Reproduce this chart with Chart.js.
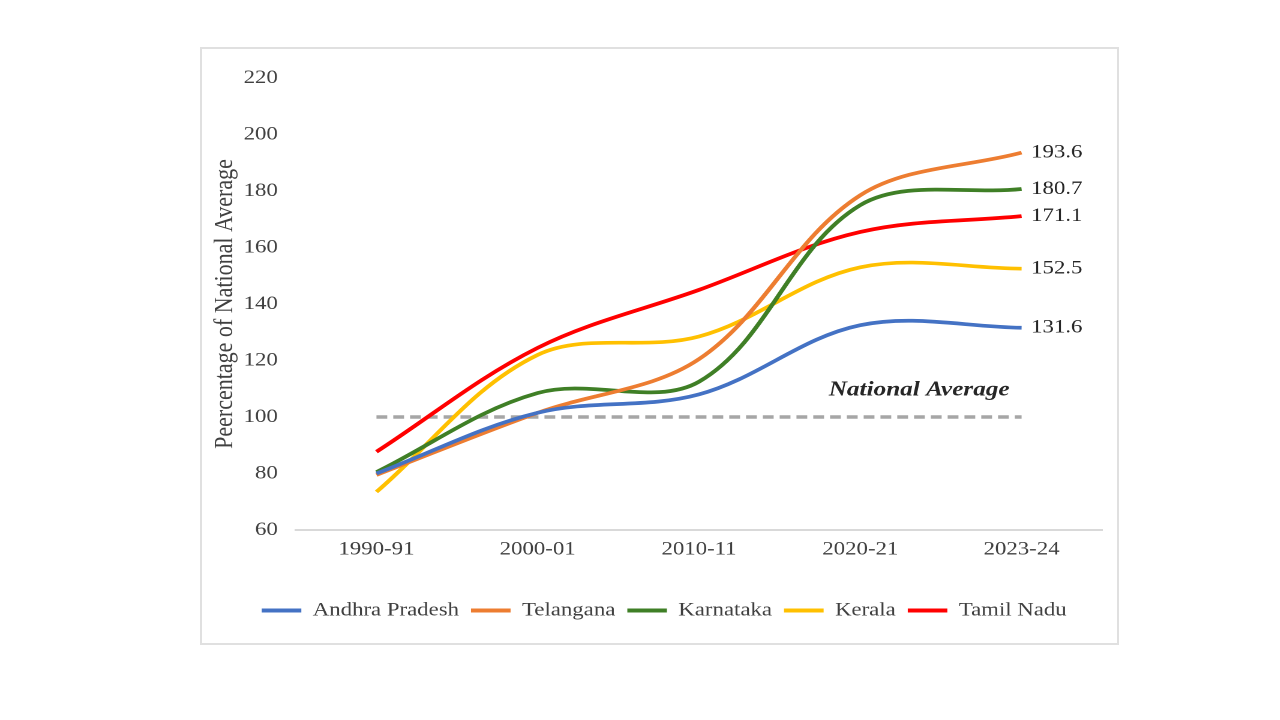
<!DOCTYPE html>
<html>
<head>
<meta charset="utf-8">
<script src="https://cdn.jsdelivr.net/npm/chart.js@4"></script>
<style>
  body { margin: 0; background: #fff; width: 1280px; height: 720px; position: relative; overflow: hidden; }
  #frame { position: absolute; left: 200px; top: 47px; width: 919px; height: 598px; box-sizing: border-box; border: 2px solid #e0e0e0; }
  /* the original picture is stretched sideways, so the chart is too */
  #wrap { position: absolute; left: 201px; top: 48px; width: 763px; height: 595px; transform: scaleX(1.2); transform-origin: 0 0; }
</style>
</head>
<body>
<div id="frame"></div>
<div id="wrap"><canvas id="chart1" width="763" height="595"></canvas></div>
<script>
const years = ['1990-91', '2000-01', '2010-11', '2020-21', '2023-24'];
const andhra = [80, 101.5, 108, 132.5, 131.6];
const telangana = [79.5, 101.5, 120.5, 178.5, 193.6];
const karnataka = [80.5, 108.5, 112.5, 175, 180.7];
const kerala = [73.5, 122, 128.5, 153, 152.5];
const tamilNadu = [87.7, 124.5, 145, 165.5, 171.1];
const nationalAvg = [100, 100, 100, 100, 100];
const avgLabel = 'National Average';

const serif = '"Liberation Serif", "Times New Roman", serif';

// value labels at the end of each line + the "National Average" note
const endLabels = {
  id: 'endLabels',
  afterDatasetsDraw(chart) {
    const { ctx, scales: { x, y } } = chart;
    ctx.save();
    ctx.font = '19px ' + serif;
    ctx.fillStyle = '#262626';
    ctx.textBaseline = 'middle';
    chart.data.datasets.forEach((ds, i) => {
      if (ds.isAverage) return;
      const last = ds.data.length - 1;
      const pt = chart.getDatasetMeta(i).data[last];
      ctx.fillText(ds.data[last].toFixed(1), pt.x + 8, pt.y);
    });
    ctx.font = 'italic bold 21px ' + serif;
    ctx.textAlign = 'right';
    ctx.fillText(avgLabel, x.getPixelForValue(4) - 10, y.getPixelForValue(109.5));
    ctx.restore();
  }
};

function line(label, data, color) {
  return { label, data, borderColor: color, backgroundColor: color, borderWidth: 3.7, pointRadius: 0, tension: 0.35 };
}

const ctx = document.getElementById('chart1');
new Chart(ctx, {
  type: 'line',
  data: {
    labels: years,
    datasets: [
      line('Andhra Pradesh', andhra, '#4472C4'),
      line('Telangana', telangana, '#ED7D31'),
      line('Karnataka', karnataka, '#3F7F26'),
      line('Kerala', kerala, '#FFC000'),
      line('Tamil Nadu', tamilNadu, '#FF0000'),
      { label: avgLabel, data: nationalAvg, isAverage: true, borderColor: '#A6A6A6', borderWidth: 3.5, borderDash: [9, 5], pointRadius: 0 }
    ]
  },
  options: {
    responsive: false,
    devicePixelRatio: 2,
    animation: false,
    layout: { padding: { left: 21, right: 12, top: 30, bottom: 13 } },
    plugins: {
      tooltip: { enabled: false },
      legend: {
        position: 'bottom',
        labels: {
          boxWidth: 33,
          boxHeight: 4,
          padding: 10,
          color: '#404040',
          font: { family: serif, size: 19 },
          generateLabels: chart => Chart.defaults.plugins.legend.labels.generateLabels(chart)
            .filter(l => l.datasetIndex < 5)
            .map(l => Object.assign(l, { fillStyle: l.strokeStyle, lineWidth: 0 }))
        }
      }
    },
    scales: {
      x: {
        offset: true,
        grid: { display: false, drawTicks: false },
        border: { color: '#D9D9D9', width: 2 },
        ticks: { padding: 8, color: '#404040', font: { family: serif, size: 19 } },
        afterFit(s) { s.height = 61; }
      },
      y: {
        min: 60,
        max: 220,
        grid: { display: false, drawTicks: false },
        border: { display: false },
        ticks: { stepSize: 20, padding: 15, color: '#404040', font: { family: serif, size: 19 } },
        title: {
          display: true,
          text: 'Peercentage of National Average',
          color: '#404040',
          font: { family: serif, size: 22 },
          padding: { top: -14, bottom: 0 }
        },
        afterFit(s) { s.width = 58; }
      }
    }
  },
  plugins: [endLabels]
});
</script>
</body>
</html>
